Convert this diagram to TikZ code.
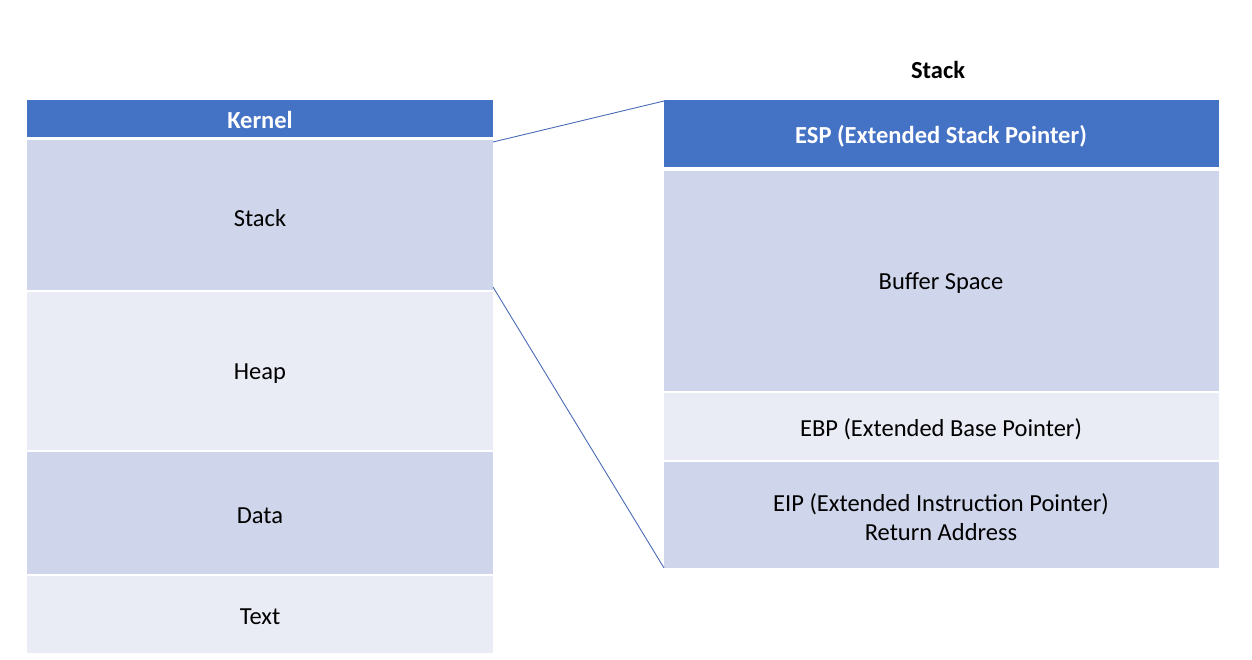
\documentclass[tikz,border=0pt]{standalone}
\usepackage{fontspec}
\setmainfont{Carlito}
\definecolor{dkblue}{HTML}{4472C4}
\definecolor{mdblue}{HTML}{CFD5EA}
\definecolor{ltblue}{HTML}{E9EBF5}
\definecolor{lnblue}{HTML}{4A6BB5}
\begin{document}
\begin{tikzpicture}[x=1pt,y=-1pt,
  blk/.style={inner sep=0pt,font=\fontsize{24.5}{29}\selectfont,align=center},
  bblk/.style={blk,font=\fontsize{24.5}{29}\selectfont\bfseries},
  conn/.style={draw=lnblue,line width=0.9pt}]
\useasboundingbox (0,0) rectangle (1252,660);
% left column
\fill[dkblue] (27,100) rectangle (493,137);
\node[bblk,text=white] (kernel) at (260,120) {Kernel};
\fill[mdblue] (27,140) rectangle (493,290);
\node[blk] (stackL) at (260,218) {Stack};
\fill[ltblue] (27,292) rectangle (493,450);
\node[blk] (heap) at (260,374) {Heap};
\fill[mdblue] (27,452) rectangle (493,574);
\node[blk] (data) at (260,516) {Data};
\fill[ltblue] (27,576) rectangle (493,653);
\node[blk] (text) at (260,617) {Text};
% right column
\node[bblk] (title) at (938,70) {Stack};
\fill[dkblue] (664,100) rectangle (1219,167);
\node[bblk,text=white] (esp) at (941,136) {ESP (Extended Stack Pointer)};
\fill[mdblue] (664,171) rectangle (1219,391);
\node[blk] (buf) at (941,283) {Buffer Space};
\fill[ltblue] (664,393) rectangle (1219,460);
\node[blk] (ebp) at (941,429) {EBP (Extended Base Pointer)};
\fill[mdblue] (664,462) rectangle (1219,568);
\node[blk] (eip) at (941,517) {EIP (Extended Instruction Pointer)\\Return Address};
% connectors
\coordinate (a1) at (493,142);
\coordinate (b1) at (664,101);
\coordinate (a2) at (493,287);
\coordinate (b2) at (664,568);
\draw[conn] (a1) -- (b1);
\draw[conn] (a2) -- (b2);
\end{tikzpicture}
\end{document}
